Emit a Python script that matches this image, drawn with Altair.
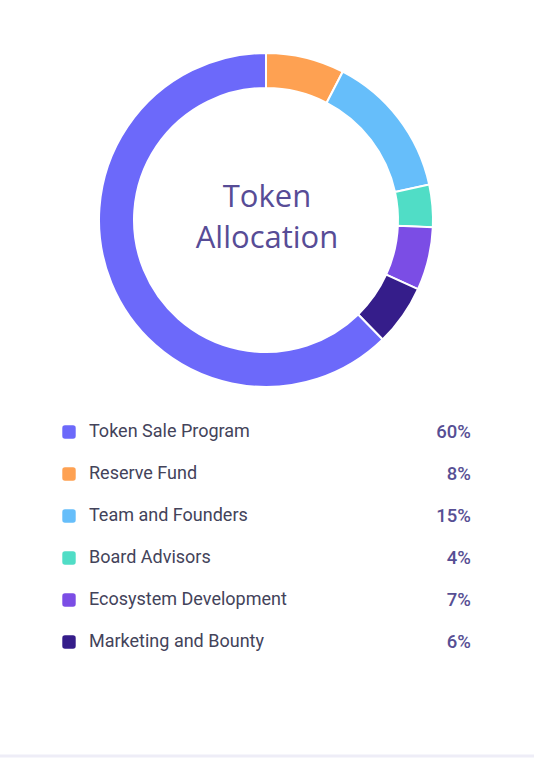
import altair as alt
import pandas as pd

# Legend rows (top to bottom)
names = ["Token Sale Program", "Reserve Fund", "Team and Founders",
         "Board Advisors", "Ecosystem Development", "Marketing and Bounty"]
pct_labels = ["60%", "8%", "15%", "4%", "7%", "6%"]
colors = ["#6C69FA", "#FEA152", "#66BEFA", "#50DDC6", "#7B4DE5", "#351D8A"]

# Ring slices, clockwise from 12 o'clock (shares read from the arcs)
slice_names = ["Reserve Fund", "Team and Founders", "Board Advisors",
               "Ecosystem Development", "Marketing and Bounty", "Token Sale Program"]
slice_shares = [7.6, 14.0, 4.1, 6.1, 5.9, 62.3]

W, H = 534, 758

ring_df = pd.DataFrame({"name": slice_names, "share": slice_shares,
                        "ord": list(range(len(slice_names)))})
legend_df = pd.DataFrame({"name": names, "pct": pct_labels})

color_scale = alt.Scale(domain=names, range=colors)
row_scale = alt.Scale(type="point", domain=names, range=[432, 642], padding=0)

ring = alt.Chart(ring_df).mark_arc(
    outerRadius=167, innerRadius=132, stroke="white", strokeWidth=2
).encode(
    theta=alt.Theta("share:Q", stack=True),
    order=alt.Order("ord:Q"),
    color=alt.Color("name:N", scale=color_scale, legend=None),
    x=alt.value(266),
    y=alt.value(220),
)

center = alt.Chart(pd.DataFrame({"t": [0]})).mark_text(
    text=["Token", "Allocation"], font="Open Sans", fontSize=31,
    lineHeight=41, color="#574C96", align="center", baseline="alphabetic"
).encode(x=alt.value(267), y=alt.value(207))

rounded_sq = ("M-0.6,-1 L0.6,-1 Q1,-1 1,-0.6 L1,0.6 Q1,1 0.6,1 L-0.6,1 "
              "Q-1,1 -1,0.6 L-1,-0.6 Q-1,-1 -0.6,-1 Z")

swatch = alt.Chart(legend_df).mark_point(
    shape=rounded_sq, filled=True, size=180, opacity=1
).encode(
    x=alt.value(69),
    y=alt.Y("name:N", scale=row_scale, axis=None),
    color=alt.Color("name:N", scale=color_scale, legend=None),
)

labels = alt.Chart(legend_df).mark_text(
    align="left", baseline="middle", font="Roboto", fontSize=18,
    color="#43435A"
).encode(
    x=alt.value(89),
    y=alt.Y("name:N", scale=row_scale, axis=None),
    text="name:N",
)

pcts = alt.Chart(legend_df).mark_text(
    align="right", baseline="middle", font="Roboto", fontSize=18.5,
    fontWeight=500, color="#574F94"
).encode(
    x=alt.value(471),
    y=alt.Y("name:N", scale=row_scale, axis=None),
    text="pct:N",
)

bottom = alt.Chart(pd.DataFrame({"t": [0]})).mark_rule(
    color="#EEEDF7", strokeWidth=3
).encode(x=alt.value(0), x2=alt.value(W), y=alt.value(756))

chart = alt.layer(ring, center, swatch, labels, pcts, bottom).properties(
    width=W, height=H, padding=0, autosize="none", background="white"
).configure_view(stroke=None)

chart.save("out.html", embed_options={"renderer": "svg", "actions": False})
